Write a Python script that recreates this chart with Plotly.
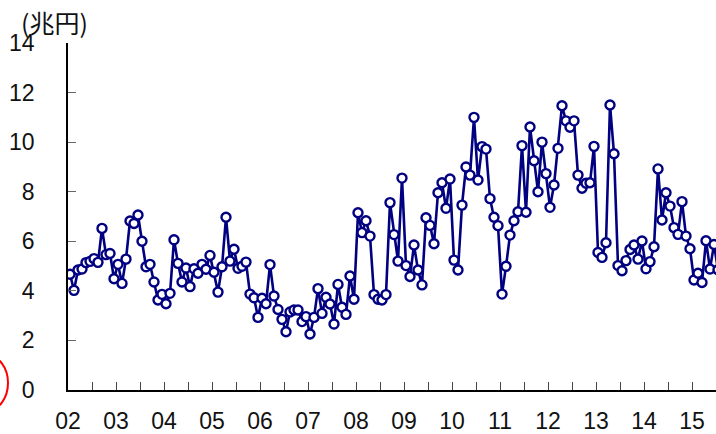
import plotly.graph_objects as go

# Monthly values (trillion yen), Jan 2002 onwards
values = [
    4.67, 4.02, 4.84, 4.88, 5.14, 5.19, 5.30, 5.15, 6.52, 5.46, 5.51, 4.49,   # 2002
    5.07, 4.30, 5.28, 6.82, 6.72, 7.06, 6.00, 4.97, 5.07, 4.36, 3.63, 3.86,   # 2003
    3.48, 3.90, 6.06, 5.11, 4.36, 4.92, 4.17, 4.89, 4.71, 5.07, 4.87, 5.43,   # 2004
    4.75, 3.95, 4.97, 6.97, 5.20, 5.68, 4.91, 4.99, 5.16, 3.87, 3.72, 2.93,   # 2005
    3.70, 3.48, 5.06, 3.79, 3.25, 2.85, 2.35, 3.15, 3.23, 3.23, 2.76, 2.96,   # 2006
    2.26, 2.93, 4.09, 3.09, 3.74, 3.47, 2.66, 4.26, 3.34, 3.05, 4.60, 3.66,   # 2007
    7.15, 6.35, 6.83, 6.21, 3.85, 3.66, 3.63, 3.85, 7.56, 6.27, 5.20, 8.55,   # 2008
    5.02, 4.58, 5.85, 4.84, 4.24, 6.95, 6.64, 5.90, 7.96, 8.36, 7.33, 8.51,   # 2009
    5.24, 4.84, 7.46, 9.00, 8.67, 11.00, 8.47, 9.82, 9.72, 7.72, 6.97, 6.63,  # 2010
    3.87, 4.99, 6.25, 6.83, 7.19, 9.86, 7.17, 10.61, 9.25, 8.00, 10.00, 8.73, # 2011
    7.37, 8.27, 9.75, 11.47, 10.86, 10.60, 10.86, 8.67, 8.14, 8.34, 8.36, 9.83,  # 2012
    5.55, 5.35, 5.94, 11.50, 9.53, 5.02, 4.81, 5.22, 5.67, 5.85, 5.28, 6.01,  # 2013
    4.89, 5.18, 5.78, 8.92, 6.86, 7.96, 7.42, 6.55, 6.28, 7.60, 6.21, 5.70,   # 2014
    4.44, 4.71, 4.34, 6.02, 4.88, 5.87, 4.85,                                 # 2015
]
# x position: months since Jan 2002, plotted at mid-month
months = [i + 0.5 for i in range(len(values))]

year_labels = ["02", "03", "04", "05", "06", "07", "08", "09",
               "10", "11", "12", "13", "14", "15"]
tick_months = list(range(0, 163, 6))
tick_text = [year_labels[m // 12] if m % 12 == 0 and m // 12 < len(year_labels) else ""
             for m in tick_months]

y_ticks = [0, 2, 4, 6, 8, 10, 12, 14]

navy = "#000080"
font_family = "Liberation Sans, Arial, sans-serif"

fig = go.Figure()
fig.add_trace(go.Scatter(
    x=months, y=values,
    mode="lines+markers",
    line=dict(color=navy, width=2.6),
    marker=dict(size=9, color="white", line=dict(color=navy, width=2.4)),
    hoverinfo="skip",
    showlegend=False,
))

fig.update_layout(
    width=716, height=434,
    margin=dict(l=68, r=0, t=43, b=44, autoexpand=False),
    paper_bgcolor="white", plot_bgcolor="white",
    font=dict(family=font_family, size=23, color="#111"),
    xaxis=dict(
        range=[0, 162], automargin=False,
        tickmode="array", tickvals=tick_months, ticktext=tick_text,
        ticks="inside", ticklen=8, tickwidth=1, tickcolor="#444",
        showline=True, linecolor="black", linewidth=1.5,
        showgrid=False, zeroline=False,
        ticklabelstandoff=10,
        tickfont=dict(family=font_family, size=23, color="#111"),
    ),
    yaxis=dict(
        range=[0, 14], automargin=False,
        tickmode="array", tickvals=y_ticks,
        ticks="inside", ticklen=8, tickwidth=1, tickcolor="#666",
        showline=True, linecolor="black", linewidth=1.5,
        showgrid=False, zeroline=False,
        ticklabelstandoff=27,
        tickfont=dict(family=font_family, size=23, color="#111"),
    ),
    annotations=[dict(
        text="(兆円)", xref="paper", yref="paper",
        x=(19 - 68) / 648, y=(390 - 22) / 347,
        xanchor="left", yanchor="middle", showarrow=False,
        font=dict(family="Noto Sans CJK JP", size=25, color="#111"),
    )],
    shapes=[dict(
        type="circle", xref="paper", yref="paper",
        x0=(-35 - 68) / 648, x1=(8 - 68) / 648,
        y0=(390 - 411) / 347, y1=(390 - 355) / 347,
        line=dict(color="red", width=2),
    )],
)

fig.write_html("out.html")
